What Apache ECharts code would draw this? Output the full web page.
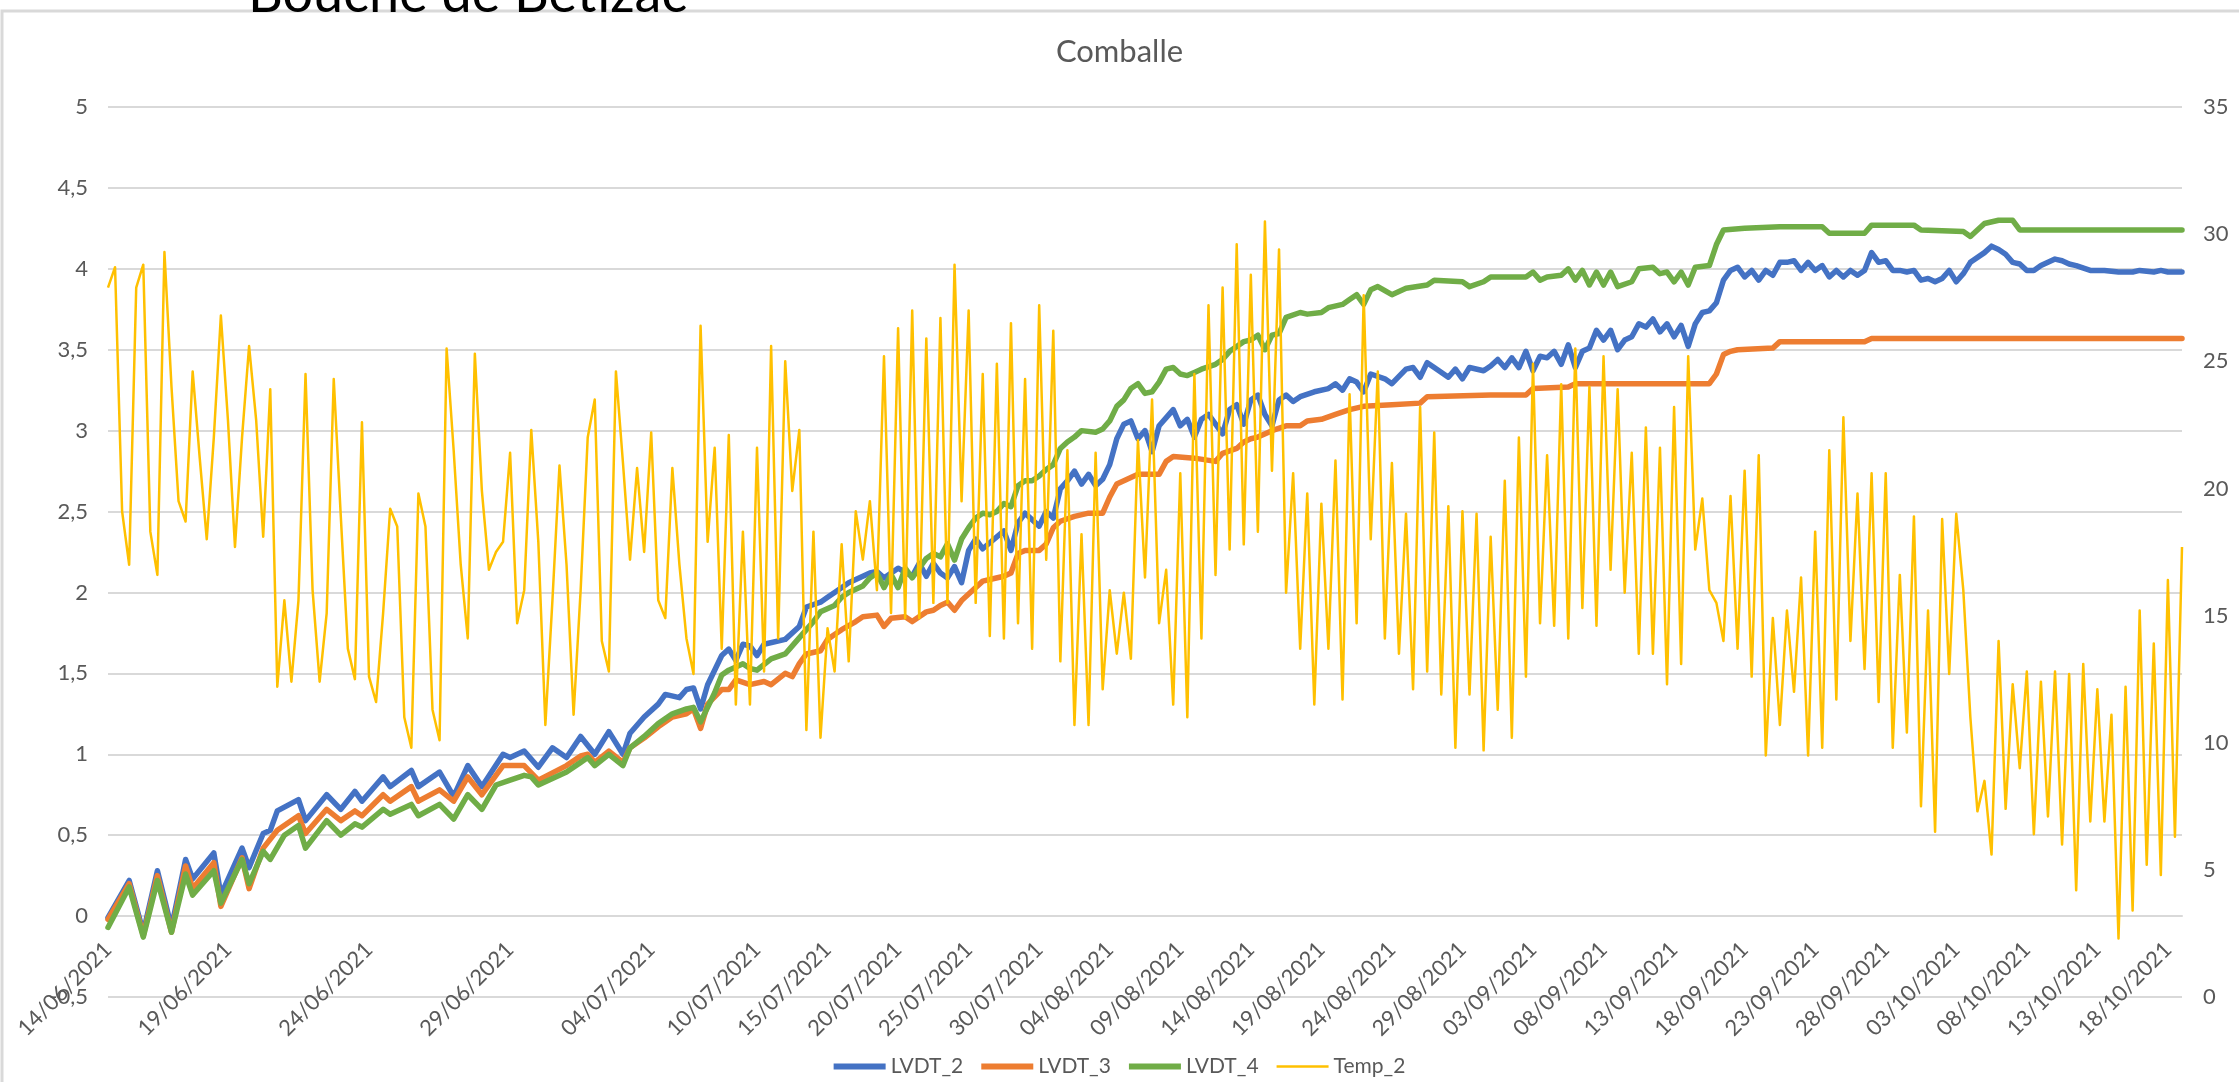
<!DOCTYPE html>
<html>
<head>
<meta charset="utf-8">
<title>Comballe</title>
<script src="https://cdn.jsdelivr.net/npm/echarts@6.0.0/dist/echarts.min.js"></script>
<style>
    html, body { margin: 0; padding: 0; background: #fff; }
    #chart { width: 2239px; height: 1082px; }
</style>
</head>
<body>
<div id="chart"></div>
<script>
// time axis: one reading every 6 h until 05/07 midday, then every 12 h
var categories = [];
function pad(n) { return (n < 10 ? '0' : '') + n; }
var t = Date.UTC(2021, 5, 14, 18);
var switchAt = Date.UTC(2021, 6, 5, 12);
var end = Date.UTC(2021, 9, 19, 0);
while (t <= end) {
    var d = new Date(t);
    categories.push(pad(d.getUTCDate()) + '/' + pad(d.getUTCMonth() + 1) + '/' + d.getUTCFullYear() + ' ' + pad(d.getUTCHours()) + ':00');
    t += (t < switchAt ? 6 : 12) * 3600 * 1000;
}

var tickDates = ['14/06/2021', '19/06/2021', '24/06/2021', '29/06/2021', '04/07/2021', '10/07/2021',
    '15/07/2021', '20/07/2021', '25/07/2021', '30/07/2021', '04/08/2021', '09/08/2021', '14/08/2021',
    '19/08/2021', '24/08/2021', '29/08/2021', '03/09/2021', '08/09/2021', '13/09/2021', '18/09/2021',
    '23/09/2021', '28/09/2021', '03/10/2021', '08/10/2021', '13/10/2021', '18/10/2021'];

// Temp_2 (°C), one value per category
var temp2 = [
    27.9, 28.7, 19.1, 17.0, 27.9, 28.8, 18.3, 16.6, 29.3, 24.0,
    19.5, 18.7, 24.6, 21.2, 18.0, 22.0, 26.8, 22.7, 17.7, 22.0,
    25.6, 22.7, 18.1, 23.9, 12.2, 15.6, 12.4, 15.6, 24.5, 16.0,
    12.4, 15.1, 24.3, 18.9, 13.7, 12.5, 22.6, 12.6, 11.6, 15.1,
    19.2, 18.5, 11.0, 9.8, 19.8, 18.5, 11.3, 10.1, 25.5, 21.5,
    17.0, 14.1, 25.3, 19.9, 16.8, 17.5, 17.9, 21.4, 14.7, 16.0,
    22.3, 17.9, 10.7, 15.6, 20.9, 17.0, 11.1, 16.0, 22.0, 23.5,
    14.0, 12.8, 24.6, 21.0, 17.2, 20.8, 17.5, 22.2, 15.6, 14.9,
    20.8, 17.0, 14.1, 12.7, 26.4, 17.9, 21.6, 13.7, 22.1, 11.5,
    18.3, 11.5, 21.6, 12.8, 25.6, 14.1, 25.0, 19.9, 22.3, 10.5,
    18.3, 10.2, 14.5, 12.8, 17.8, 13.2, 19.1, 17.2, 19.5, 16.0,
    25.2, 15.1, 26.3, 14.9, 27.0, 14.9, 25.9, 15.5, 26.7, 15.5,
    28.8, 19.5, 27.0, 15.5, 24.5, 14.2, 24.9, 14.1, 26.5, 14.7,
    24.3, 13.7, 27.2, 17.2, 26.2, 13.2, 21.5, 10.7, 18.2, 10.7,
    21.4, 12.1, 16.0, 13.5, 15.9, 13.3, 21.9, 16.5, 23.5, 14.7,
    16.8, 11.5, 20.6, 11.0, 24.5, 14.1, 27.2, 16.6, 27.9, 17.6,
    29.6, 17.8, 28.4, 18.3, 30.5, 20.7, 29.4, 15.9, 20.6, 13.7,
    19.8, 11.5, 19.4, 13.7, 21.1, 11.7, 23.7, 14.7, 27.6, 18.0,
    24.6, 14.1, 21.0, 13.5, 19.0, 12.1, 23.2, 12.8, 22.2, 11.9,
    19.3, 9.8, 19.1, 11.9, 19.0, 9.7, 18.1, 11.3, 20.3, 10.2,
    22.0, 12.6, 24.9, 14.7, 21.3, 14.6, 24.1, 14.1, 25.5, 15.3,
    24.0, 14.6, 25.2, 16.8, 23.9, 15.9, 21.4, 13.5, 22.4, 13.5,
    21.6, 12.3, 23.2, 13.1, 25.2, 17.6, 19.6, 16.0, 15.5, 14.0,
    19.7, 13.7, 20.7, 12.6, 21.3, 9.5, 14.9, 10.7, 15.2, 12.0,
    16.5, 9.5, 18.3, 9.8, 21.5, 11.7, 22.8, 14.0, 19.8, 12.9,
    20.6, 11.6, 20.6, 9.8, 16.6, 10.4, 18.9, 7.5, 15.2, 6.5,
    18.8, 12.7, 19.0, 16.0, 11.0, 7.3, 8.5, 5.6, 14.0, 7.4,
    12.3, 9.0, 12.8, 6.4, 12.4, 7.1, 12.8, 6.0, 12.7, 4.2,
    13.1, 6.9, 12.1, 6.9, 11.1, 2.3, 12.2, 3.4, 15.2, 5.2,
    13.9, 4.8, 16.4, 6.3, 17.7
];

// LVDT readings as [category index, value]
var lvdt2 = [
    [0, -0.01], [3, 0.22], [5, -0.10], [7, 0.28], [9, -0.07], [11, 0.35], [12, 0.23], [15, 0.39], [16, 0.13],
    [19, 0.42], [20, 0.30], [22, 0.51], [23, 0.53], [24, 0.65], [27, 0.72], [28, 0.59], [31, 0.75], [33, 0.66],
    [35, 0.77], [36, 0.71], [39, 0.86], [40, 0.80], [43, 0.90], [44, 0.80], [47, 0.89], [49, 0.74], [51, 0.93],
    [53, 0.80], [56, 1.00], [57, 0.98], [59, 1.02], [61, 0.92], [63, 1.04], [65, 0.98], [67, 1.11], [69, 1.00],
    [71, 1.14], [73, 1.00], [74, 1.13], [76, 1.23], [78, 1.31], [79, 1.37], [81, 1.35], [82, 1.40], [83, 1.41],
    [84, 1.28], [85, 1.43], [87, 1.61], [88, 1.65], [89, 1.58], [90, 1.68], [91, 1.67], [92, 1.61], [93, 1.68],
    [96, 1.71], [98, 1.79], [99, 1.91], [101, 1.94], [102, 1.97], [103, 2.00], [105, 2.06], [108, 2.12],
    [109, 2.13], [110, 2.09], [112, 2.15], [114, 2.10], [115, 2.18], [116, 2.10], [117, 2.18], [118, 2.12],
    [119, 2.09], [120, 2.16], [121, 2.06], [122, 2.26], [123, 2.33], [124, 2.27], [127, 2.38], [128, 2.26],
    [129, 2.43], [130, 2.49], [132, 2.41], [133, 2.50], [134, 2.46], [135, 2.64], [136, 2.69], [137, 2.75],
    [138, 2.67], [139, 2.73], [140, 2.66], [141, 2.70], [142, 2.79], [143, 2.95], [144, 3.04], [145, 3.06],
    [146, 2.95], [147, 3.00], [148, 2.87], [149, 3.03], [151, 3.13], [152, 3.03], [153, 3.07], [154, 2.96],
    [155, 3.07], [156, 3.10], [158, 2.98], [159, 3.13], [160, 3.16], [161, 3.04], [162, 3.19], [163, 3.22],
    [164, 3.10], [165, 3.03], [166, 3.19], [167, 3.22], [168, 3.18], [169, 3.21], [171, 3.24], [173, 3.26],
    [174, 3.29], [175, 3.25], [176, 3.32], [177, 3.30], [178, 3.24], [179, 3.35], [181, 3.32], [182, 3.29],
    [184, 3.38], [185, 3.39], [186, 3.33], [187, 3.42], [188, 3.39], [190, 3.33], [191, 3.38], [192, 3.32],
    [193, 3.39], [195, 3.37], [196, 3.40], [197, 3.44], [198, 3.39], [199, 3.45], [200, 3.39], [201, 3.49],
    [202, 3.37], [203, 3.46], [204, 3.45], [205, 3.49], [206, 3.41], [207, 3.53], [208, 3.39], [209, 3.49],
    [210, 3.51], [211, 3.62], [212, 3.56], [213, 3.62], [214, 3.50], [215, 3.56], [216, 3.58], [217, 3.66],
    [218, 3.64], [219, 3.69], [220, 3.61], [221, 3.66], [222, 3.58], [223, 3.65], [224, 3.52], [225, 3.66],
    [226, 3.73], [227, 3.74], [228, 3.79], [229, 3.93], [230, 3.99], [231, 4.01], [232, 3.95], [233, 3.99],
    [234, 3.93], [235, 3.99], [236, 3.96], [237, 4.04], [238, 4.04], [239, 4.05], [240, 3.99], [241, 4.04],
    [242, 3.99], [243, 4.02], [244, 3.95], [245, 3.99], [246, 3.95], [247, 3.99], [248, 3.96], [249, 3.99],
    [250, 4.10], [251, 4.04], [252, 4.05], [253, 3.99], [254, 3.99], [255, 3.98], [256, 3.99], [257, 3.93],
    [258, 3.94], [259, 3.92], [260, 3.94], [261, 3.99], [262, 3.92], [263, 3.97], [264, 4.04], [266, 4.10],
    [267, 4.14], [268, 4.12], [269, 4.09], [270, 4.04], [271, 4.03], [272, 3.99], [273, 3.99], [274, 4.02],
    [276, 4.06], [277, 4.05], [278, 4.03], [279, 4.02], [281, 3.99], [283, 3.99], [285, 3.98], [287, 3.98],
    [288, 3.99], [290, 3.98], [291, 3.99], [292, 3.98], [294, 3.98]
];

var lvdt3 = [
    [0, -0.02], [3, 0.20], [5, -0.12], [7, 0.25], [9, -0.10], [11, 0.31], [12, 0.17], [15, 0.33], [16, 0.06],
    [19, 0.36], [20, 0.17], [22, 0.42], [24, 0.53], [27, 0.62], [28, 0.51], [31, 0.66], [33, 0.59], [35, 0.65],
    [36, 0.62], [39, 0.75], [40, 0.71], [43, 0.80], [44, 0.71], [47, 0.78], [49, 0.71], [51, 0.86], [53, 0.75],
    [56, 0.93], [59, 0.93], [61, 0.84], [65, 0.93], [67, 0.99], [68, 1.00], [69, 0.95], [71, 1.02], [73, 0.95],
    [74, 1.04], [76, 1.10], [78, 1.17], [80, 1.23], [82, 1.25], [83, 1.28], [84, 1.16], [85, 1.31], [87, 1.40],
    [88, 1.40], [89, 1.46], [91, 1.43], [93, 1.45], [94, 1.43], [96, 1.50], [97, 1.48], [98, 1.56], [99, 1.62],
    [101, 1.64], [102, 1.71], [103, 1.74], [104, 1.77], [106, 1.82], [107, 1.85], [109, 1.86], [110, 1.79],
    [111, 1.84], [113, 1.85], [114, 1.82], [116, 1.88], [117, 1.89], [118, 1.92], [119, 1.94], [120, 1.89],
    [121, 1.95], [122, 1.99], [124, 2.07], [125, 2.08], [127, 2.10], [128, 2.12], [129, 2.24], [130, 2.26],
    [132, 2.26], [133, 2.30], [134, 2.40], [135, 2.44], [137, 2.47], [139, 2.49], [141, 2.49], [142, 2.59],
    [143, 2.67], [145, 2.71], [146, 2.73], [149, 2.73], [150, 2.81], [151, 2.84], [154, 2.83], [157, 2.81],
    [158, 2.86], [160, 2.89], [161, 2.93], [162, 2.95], [163, 2.96], [165, 3.00], [167, 3.03], [169, 3.03],
    [170, 3.06], [172, 3.07], [174, 3.10], [176, 3.13], [178, 3.15], [182, 3.16], [186, 3.17], [187, 3.21],
    [196, 3.22], [201, 3.22], [202, 3.26], [207, 3.27], [208, 3.29], [227, 3.29], [228, 3.35], [229, 3.47],
    [230, 3.49], [231, 3.50], [236, 3.51], [237, 3.55], [249, 3.55], [250, 3.57], [294, 3.57]
];

var lvdt4 = [
    [0, -0.07], [3, 0.18], [5, -0.13], [7, 0.22], [9, -0.10], [11, 0.26], [12, 0.13], [15, 0.28], [16, 0.08],
    [19, 0.35], [20, 0.20], [22, 0.40], [23, 0.35], [25, 0.50], [27, 0.56], [28, 0.42], [31, 0.59], [33, 0.50],
    [35, 0.57], [36, 0.55], [39, 0.66], [40, 0.63], [43, 0.69], [44, 0.62], [47, 0.69], [49, 0.60], [51, 0.75],
    [53, 0.66], [55, 0.81], [57, 0.84], [59, 0.87], [60, 0.86], [61, 0.81], [63, 0.85], [65, 0.89], [67, 0.95],
    [68, 0.98], [69, 0.93], [71, 1.00], [73, 0.93], [74, 1.04], [76, 1.11], [78, 1.19], [80, 1.25], [82, 1.28],
    [83, 1.29], [84, 1.20], [86, 1.38], [87, 1.49], [88, 1.52], [90, 1.56], [91, 1.53], [92, 1.52], [94, 1.59],
    [96, 1.62], [97, 1.67], [99, 1.77], [100, 1.82], [101, 1.88], [103, 1.92], [104, 1.97], [105, 2.00],
    [107, 2.04], [108, 2.09], [109, 2.12], [110, 2.03], [111, 2.11], [112, 2.03], [113, 2.15], [114, 2.09],
    [115, 2.15], [116, 2.21], [117, 2.24], [118, 2.22], [119, 2.30], [120, 2.20], [121, 2.33], [122, 2.40],
    [123, 2.46], [124, 2.49], [125, 2.48], [126, 2.50], [127, 2.55], [128, 2.53], [129, 2.66], [130, 2.69],
    [131, 2.69], [132, 2.72], [133, 2.76], [134, 2.79], [135, 2.89], [136, 2.93], [137, 2.96], [138, 3.00],
    [140, 2.99], [141, 3.01], [142, 3.06], [143, 3.15], [144, 3.19], [145, 3.26], [146, 3.29], [147, 3.23],
    [148, 3.24], [149, 3.30], [150, 3.38], [151, 3.39], [152, 3.35], [153, 3.34], [154, 3.36], [155, 3.38],
    [157, 3.41], [158, 3.44], [159, 3.49], [160, 3.52], [161, 3.55], [162, 3.56], [163, 3.59], [164, 3.50],
    [165, 3.59], [166, 3.60], [167, 3.70], [169, 3.73], [170, 3.72], [172, 3.73], [173, 3.76], [175, 3.78],
    [176, 3.81], [177, 3.84], [178, 3.78], [179, 3.87], [180, 3.89], [182, 3.84], [184, 3.88], [187, 3.90],
    [188, 3.93], [192, 3.92], [193, 3.89], [195, 3.92], [196, 3.95], [201, 3.95], [202, 3.98], [203, 3.93],
    [204, 3.95], [206, 3.96], [207, 4.00], [208, 3.93], [209, 3.99], [210, 3.90], [211, 3.98], [212, 3.90],
    [213, 3.98], [214, 3.89], [216, 3.92], [217, 4.00], [219, 4.01], [220, 3.97], [221, 3.98], [222, 3.92],
    [223, 3.98], [224, 3.90], [225, 4.01], [227, 4.02], [228, 4.15], [229, 4.24], [232, 4.25], [237, 4.26],
    [243, 4.26], [244, 4.22], [249, 4.22], [250, 4.27], [256, 4.27], [257, 4.24], [263, 4.23], [264, 4.20],
    [265, 4.24], [266, 4.28], [268, 4.30], [270, 4.30], [271, 4.24], [294, 4.24]
];

var tickIndex = tickDates.map(function (day) {
    return categories.findIndex(function (c) { return c.indexOf(day) === 0; });
});

var textColor = '#595959';
var font = 'Lato';
var thickIcon = 'path://M0 0H52V6H0Z';
var thinIcon = 'path://M0 0H52V2.5H0Z';

function lvdtSeries(name, color, data) {
    return {
        name: name,
        type: 'line',
        data: data,
        yAxisIndex: 0,
        showSymbol: false,
        symbol: 'none',
        color: color,
        lineStyle: { width: 5.5, color: color, join: 'round', cap: 'round' }
    };
}

var chart = echarts.init(document.getElementById('chart'));
chart.setOption({
    animation: false,
    backgroundColor: '#fff',
    title: {
        text: 'Comballe',
        left: 'center',
        top: 36,
        padding: 0,
        textStyle: { color: textColor, fontSize: 31, fontWeight: 'normal', fontFamily: font }
    },
    graphic: [
        {
            type: 'rect', z: 0, silent: true,
            shape: { x: 2, y: 11, width: 2300, height: 1200 },
            style: { fill: 'none', stroke: '#d9d9d9', lineWidth: 3 }
        },
        {
            type: 'text', z: 10, silent: true,
            style: {
                text: 'Bouche de Betizac', x: 248, y: -5,
                verticalAlign: 'middle', align: 'left',
                font: '54px Lato', fill: '#000'
            }
        }
    ],
    legend: {
        left: 'center',
        top: 1056,
        padding: 0,
        itemWidth: 52,
        itemHeight: 6,
        itemGap: 18,
        itemStyle: { borderWidth: 0 },
        textStyle: { color: textColor, fontSize: 21, fontFamily: font },
        data: [
            { name: 'LVDT_2', icon: thickIcon },
            { name: 'LVDT_3', icon: thickIcon },
            { name: 'LVDT_4', icon: thickIcon },
            { name: 'Temp_2', icon: thinIcon }
        ]
    },
    grid: { left: 108, right: 57, top: 107, bottom: 85 },
    xAxis: {
        type: 'category',
        data: categories,
        boundaryGap: false,
        // the date axis crosses the left scale at 0, as in the sheet
        offset: -81,
        axisLine: { show: true, onZero: false, lineStyle: { color: '#d9d9d9', width: 2 } },
        axisTick: { show: false },
        splitLine: { show: false },
        axisLabel: {
            rotate: 45,
            margin: 30,
            color: textColor,
            fontSize: 22,
            fontFamily: font,
            interval: function (index) { return tickIndex.indexOf(index) >= 0; },
            formatter: function (value) { return value.split(' ')[0]; }
        }
    },
    yAxis: [
        {
            type: 'value',
            min: -0.5,
            max: 5,
            interval: 0.5,
            axisLine: { show: false },
            axisTick: { show: false },
            splitLine: { lineStyle: { color: '#d9d9d9', width: 2 } },
            axisLabel: {
                margin: 20,
                color: textColor,
                fontSize: 22,
                fontFamily: font,
                formatter: function (v) { return String(v).replace('.', ','); }
            }
        },
        {
            type: 'value',
            min: 0,
            max: 35,
            interval: 5,
            axisLine: { show: false },
            axisTick: { show: false },
            splitLine: { show: false },
            axisLabel: { margin: 21, color: textColor, fontSize: 22, fontFamily: font }
        }
    ],
    series: [
        lvdtSeries('LVDT_2', '#4472C4', lvdt2),
        lvdtSeries('LVDT_3', '#ED7D31', lvdt3),
        lvdtSeries('LVDT_4', '#70AD47', lvdt4),
        {
            name: 'Temp_2',
            type: 'line',
            data: temp2,
            yAxisIndex: 1,
            showSymbol: false,
            symbol: 'none',
            color: '#FFC000',
            lineStyle: { width: 2.5, color: '#FFC000', join: 'round' }
        }
    ]
});
</script>
</body>
</html>
